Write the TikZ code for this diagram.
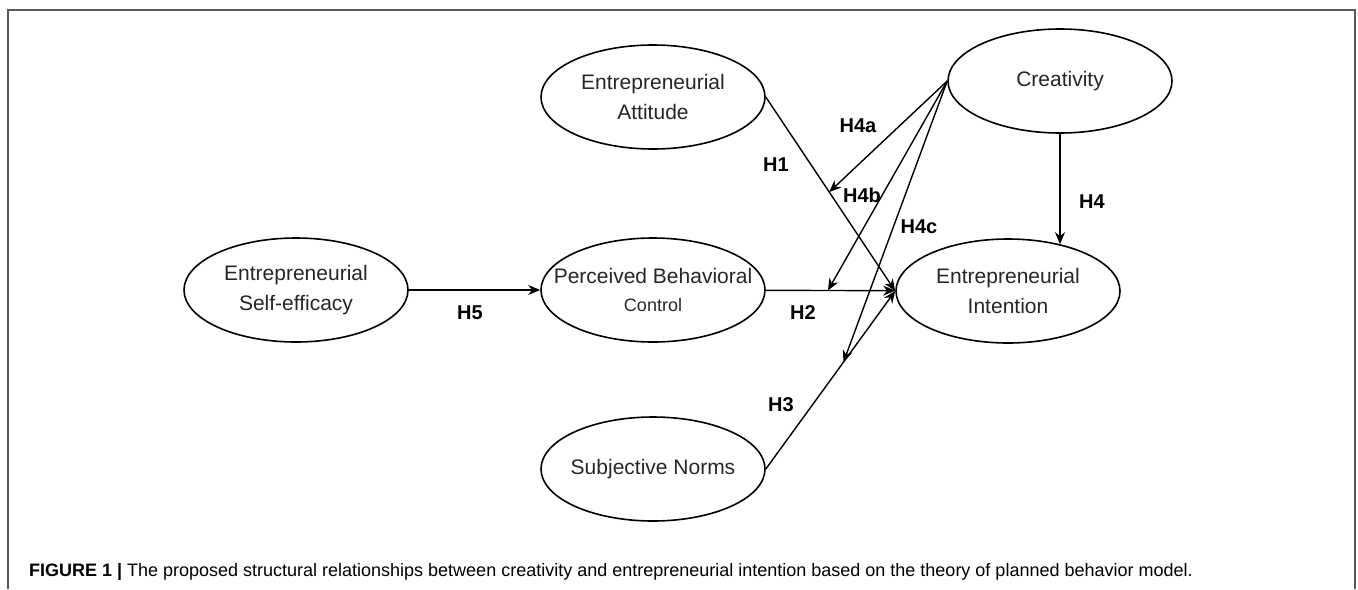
\documentclass[tikz,border=0pt]{standalone}
\usepackage{fontspec}
\setmainfont{Liberation Sans}
\usetikzlibrary{positioning,calc,shapes.geometric}
\usetikzlibrary{arrows.meta}

\begin{document}
\begin{tikzpicture}[x=0.5pt,y=-0.5pt]
	\tikzset{
		construct/.style={draw,line width=0.8pt,ellipse,minimum width=112pt,minimum height=52pt,inner xsep=-12pt,inner ysep=0pt,align=center,text=black!85,font=\fontsize{10.5}{15}\selectfont},
		link/.style={-{Stealth[length=6pt,width=5pt]},line width=0.7pt},
		hyp/.style={font=\fontsize{10}{11}\selectfont\bfseries},
	}
	\useasboundingbox (0,0) rectangle (1358,589);
	\draw[line width=0.6pt,black!65] (8,589) -- (8,10) -- (1355,10) -- (1355,589);

	\node[construct] (att) at (653,97) {Entrepreneurial\\Attitude};
	\node[construct] (cre) at (1060,81) {Creativity};
	\node[construct] (se) at (296,290) {Entrepreneurial\\Self-efficacy};
	\node[construct] (pbc) at (653,290) {Perceived Behavioral\\[-1pt]{\fontsize{9}{10}\selectfont Control}};
	\node[construct] (int) at (1008,291) {Entrepreneurial\\Intention};
	\node[construct] (sn) at (653,469) {Subjective Norms};

	\draw[link] (se) -- (pbc);
	\draw[link] (att.east) -- (int.west);
	\draw[link] (pbc) -- (int);
	\draw[link] (sn.east) -- (int.west);
	\draw[link] (cre.south) -- (cre.south |- int.42);
	\draw[link] (cre.west) -- ($(att.east)!0.49!(int.west)$);
	\draw[link] (cre.west) -- ($(pbc.east)!0.48!(int.west)$);
	\draw[link] (cre.west) -- ($(sn.east)!0.6!(int.west)$);

	\node[hyp] (h1) at (776,165) {H1};
	\node[hyp] (h2) at (803,313) {H2};
	\node[hyp] (h3) at (781,405) {H3};
	\node[hyp] (h4) at (1092,202) {H4};
	\node[hyp] (h4a) at (858,126) {H4a};
	\node[hyp] (h4b) at (862,195) {H4b};
	\node[hyp] (h4c) at (919,227) {H4c};
	\node[hyp] (h5) at (470,313) {H5};

	\node[anchor=base west,font=\fontsize{9}{10}\selectfont] (caption) at (22,576)
		{\textbf{FIGURE 1 |} The proposed structural relationships between creativity and entrepreneurial intention based on the theory of planned behavior model.};
\end{tikzpicture}
\end{document}
